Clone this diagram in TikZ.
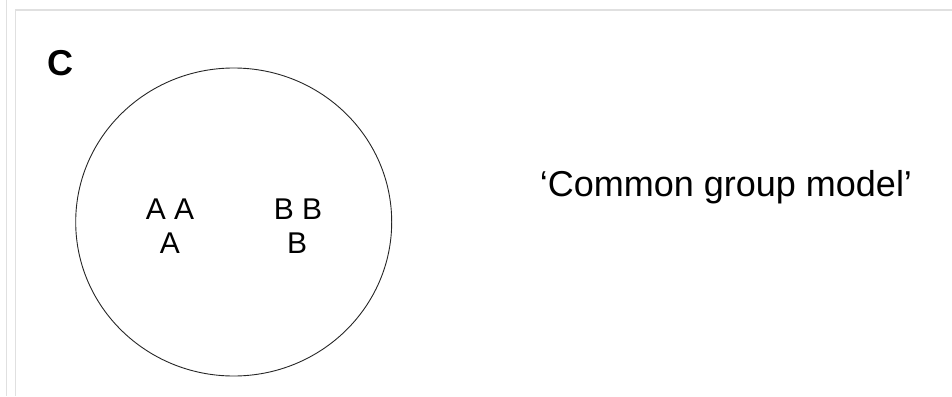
\documentclass[tikz,border=0pt]{standalone}
\usepackage{fontspec}
\setmainfont{Liberation Sans}
\usepackage{tikz}
\usetikzlibrary{positioning}

\begin{document}
\begin{tikzpicture}[x=1pt,y=-1pt,
  member/.style={font=\fontsize{30}{32}\selectfont,inner sep=0pt,anchor=base},
  panel/.style={font=\fontsize{36}{40}\selectfont\bfseries,inner sep=0pt,anchor=base},
  caption/.style={font=\fontsize{36}{40}\selectfont,inner sep=0pt,anchor=base},
  frame/.style={draw=black!12,line width=1.2pt}
]
\useasboundingbox (0,0) rectangle (952,396);
% page frame
\draw[frame] (6.5,0) -- (6.5,396);
\draw[frame] (15.5,396) -- (15.5,10) -- (952,10);
% group boundary
\coordinate (group) at (233.7,222);
\draw[line width=0.9pt,black!85] (group) ellipse [x radius=158,y radius=154];
\node[panel] (label) at (60,75) {C};
\node[member] (a1) at (170,219) {A A};
\node[member] (a2) at (170,253) {A};
\node[member] (b1) at (298,219) {B B};
\node[member] (b2) at (297,253) {B};
\node[caption] (model) at (726,196) {‘Common group model’};
\end{tikzpicture}
\end{document}
